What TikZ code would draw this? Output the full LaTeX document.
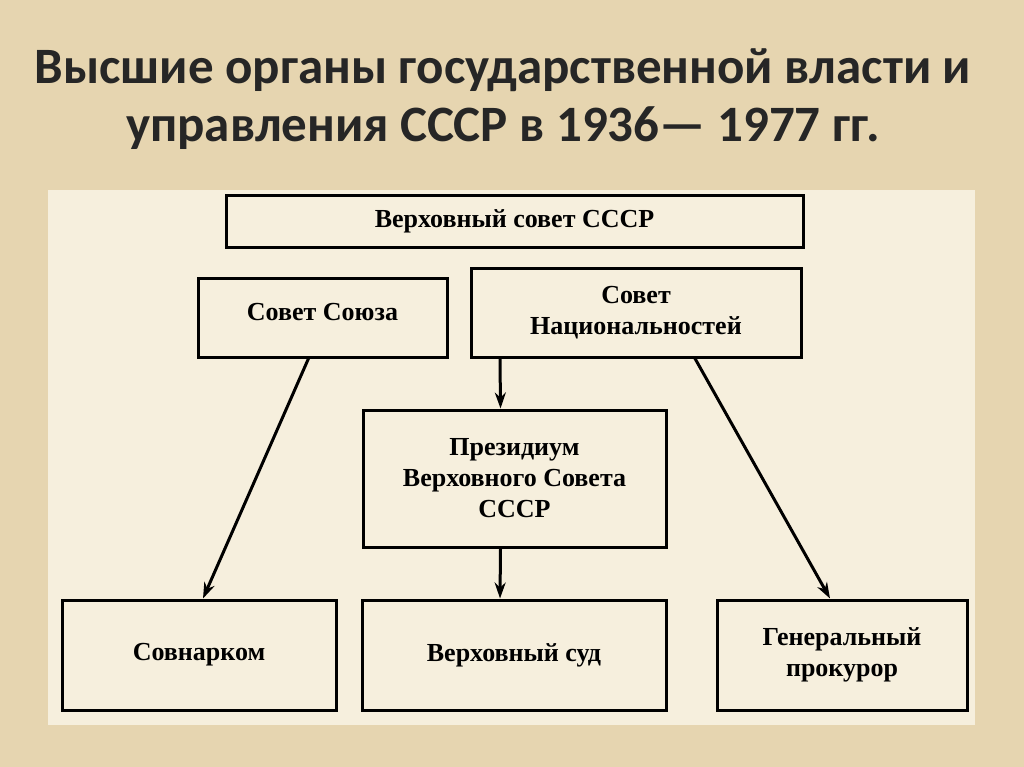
\documentclass[tikz,border=0pt]{standalone}
\usepackage{fontspec}
\setmainfont{Liberation Serif}
\newfontfamily\titlefont{Carlito}
\usetikzlibrary{arrows.meta}
\definecolor{parch}{HTML}{E6D5B0}
\definecolor{panel}{HTML}{F6EFDD}
\begin{document}
\begin{tikzpicture}[x=1pt,y=-1pt,
  bx/.style={draw,line width=3pt,minimum width=#1,align=center,font=\fontsize{26}{31}\selectfont\bfseries,inner sep=2pt},
  ar/.style={line width=3pt,-{Stealth[length=16pt,width=11pt]}}]
\fill[parch] (0,0) rectangle (1024,767);
\useasboundingbox (0,0) rectangle (1024,767);
\fill[panel] (48,190) rectangle (975,725);
\node[font=\titlefont\fontsize{51}{58}\selectfont\bfseries,align=center,text=black!85] (t) at (503,99) {Высшие органы государственной власти и\\управления СССР в 1936— 1977 гг.};
\node[bx=577pt,minimum height=51pt] (vs) at (514.5,221.5) {Верховный совет СССР};
\node[bx=249pt,minimum height=79pt] (ss) at (322.5,317.5) {\raisebox{12pt}{Совет Союза}};
\node[bx=330pt,minimum height=89pt] (sn) at (636,312.5) {Совет\\Национальностей};
\node[bx=303pt,minimum height=137pt] (pr) at (514.5,478.5) {Президиум\\Верховного Совета\\СССР};
\node[bx=274pt,minimum height=110pt] (sov) at (199,655) {Совнарком};
\node[bx=304pt,minimum height=110pt] (vsud) at (514,655) {Верховный суд};
\node[bx=250pt,minimum height=110pt] (gp) at (842,655) {Генеральный\\прокурор};
\draw[ar] ([xshift=-14pt]ss.south) -- ([xshift=4pt]sov.north);
\draw[ar] ([xshift=-136pt]sn.south) -- ([xshift=-14pt]pr.north);
\draw[ar] ([xshift=-14pt]pr.south) -- ([xshift=-14pt]vsud.north);
\draw[ar] ([xshift=59pt]sn.south) -- ([xshift=-12pt]gp.north);
\end{tikzpicture}
\end{document}
